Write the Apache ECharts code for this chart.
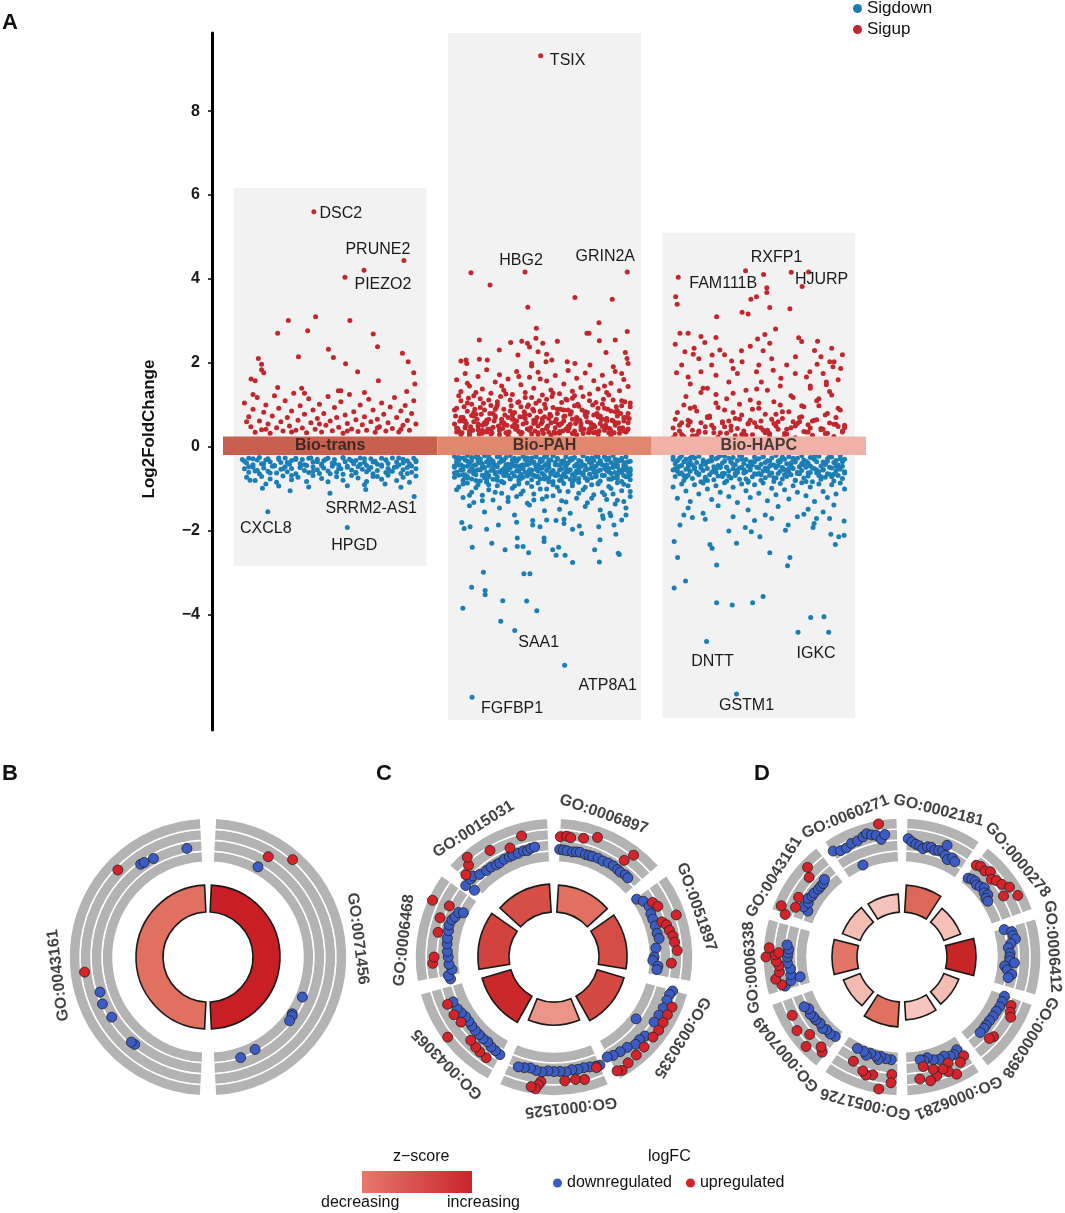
<!DOCTYPE html>
<html><head><meta charset="utf-8">
<script src="https://cdn.jsdelivr.net/npm/echarts@6/dist/echarts.min.js"></script>
<style>html,body{margin:0;padding:0;background:#fff}#c{width:1065px;height:1213px}</style>
</head><body><div id="c"></div>
<script>
// ---------------- Panel A data ----------------
const groups = ['Bio-trans', 'Bio-PAH', 'Bio-HAPC'];
const rectTop = [6.17, 9.86, 5.10];
const rectBottom = [-2.83, -6.50, -6.45];
const bandTop = [0.25, 0.25, 0.25];
const bandBottom = [-0.19, -0.19, -0.19];
const yTicks = [-4, -2, 0, 2, 4, 6, 8];

// points: [offset within group, log2FC, optional gene label]
const transUpHigh = [[-.076,5.60,'DSC2'],[.344,4.44,'PRUNE2'],[.158,4.21],[.069,4.04,'PIEZO2'],[-.068,3.10],[-.195,3.01],[.092,3.01],[-.245,2.71],[-.105,2.77],[.201,2.69],[-.008,2.33],[-.148,2.15],[.015,2.13],[.221,2.39],[.337,2.23],[-.335,2.11],[-.32,1.97],[-.32,1.84],[-.31,1.77],[.072,1.98],[.364,2.03],[.128,1.79],[.39,1.77],[-.369,1.62],[-.35,1.58],[.225,1.58],[.395,1.50],[-.245,1.42],[-.133,1.40],[.038,1.34],[.05,1.34],[.357,1.32]];
const transUpCore = [[-.40,1.05],[-.38,.72],[-.37,.48],[-.36,.90],[-.35,.35],[-.34,1.18],[-.33,.62],[-.32,.41],[-.31,.83],[-.30,1.00],[-.29,.55],[-.28,.33],[-.27,.74],[-.26,1.22],[-.25,.46],[-.24,.92],[-.23,.60],[-.22,.38],[-.21,1.10],[-.20,.70],[-.19,.50],[-.18,.86],[-.17,1.28],[-.16,.40],[-.15,.64],[-.14,.98],[-.13,.45],[-.12,.78],[-.11,.34],[-.10,1.15],[-.09,.58],[-.08,.88],[-.07,.42],[-.06,.68],[-.05,1.02],[-.04,.36],[-.03,.80],[-.02,.52],[-.01,1.20],[0,.62],[.01,.39],[.02,.94],[.03,.70],[.04,.47],[.05,1.08],[.06,.33],[.07,.76],[.08,.56],[.09,1.25],[.10,.43],[.11,.84],[.12,.65],[.13,.37],[.14,1.00],[.15,.53],[.16,.72],[.17,.40],[.18,1.14],[.19,.60],[.20,.88],[.21,.35],[.22,.66],[.23,.48],[.24,1.05],[.25,.78],[.26,.38],[.27,.58],[.28,.95],[.29,.44],[.30,1.18],[.31,.70],[.32,.36],[.33,.86],[.34,.52],[.35,.99],[.36,.63],[.37,.40],[.38,.80],[.39,1.10],[.40,.55],[-.39,.60],[-.30,.42],[-.18,.36],[-.05,.55],[.08,.38],[.22,.45],[.33,.42],[-.12,1.28],[.16,1.30],[-.36,1.25]];
const transDownCore = [[-.41,-.30],[-.39,-.38],[-.38,-.27],[-.36,-.42],[-.34,-.31],[-.33,-.25],[-.31,-.40],[-.29,-.28],[-.28,-.35],[-.26,-.44],[-.24,-.29],[-.23,-.37],[-.21,-.26],[-.19,-.41],[-.18,-.32],[-.16,-.27],[-.14,-.39],[-.13,-.30],[-.11,-.44],[-.09,-.26],[-.08,-.36],[-.06,-.29],[-.04,-.41],[-.03,-.33],[-.01,-.27],[.01,-.38],[.02,-.30],[.04,-.43],[.06,-.26],[.07,-.35],[.09,-.29],[.11,-.40],[.12,-.32],[.14,-.26],[.16,-.37],[.17,-.44],[.19,-.28],[.21,-.34],[.22,-.41],[.24,-.27],[.26,-.31],[.27,-.39],[.29,-.26],[.31,-.36],[.32,-.43],[.34,-.29],[.36,-.33],[.37,-.40],[.39,-.27],[.40,-.35],
[-.40,-.52],[-.38,-.60],[-.36,-.48],[-.35,-.57],[-.33,-.64],[-.31,-.50],[-.29,-.58],[-.27,-.46],[-.25,-.62],[-.23,-.53],[-.21,-.47],[-.20,-.59],[-.18,-.51],[-.16,-.64],[-.14,-.49],[-.12,-.56],[-.10,-.61],[-.08,-.47],[-.06,-.54],[-.05,-.63],[-.03,-.50],[-.01,-.57],[.01,-.46],[.03,-.60],[.05,-.52],[.06,-.65],[.08,-.48],[.10,-.55],[.12,-.62],[.13,-.47],[.15,-.53],[.17,-.59],[.19,-.49],[.20,-.64],[.22,-.56],[.24,-.46],[.26,-.61],[.27,-.51],[.29,-.58],[.31,-.47],[.33,-.63],[.34,-.54],[.36,-.49],[.38,-.60],[.40,-.52],
[-.39,-.72],[-.35,-.80],[-.32,-.70],[-.28,-.76],[-.25,-.84],[-.22,-.69],[-.18,-.78],[-.15,-.72],[-.11,-.82],[-.08,-.68],[-.04,-.75],[-.01,-.83],[.03,-.71],[.06,-.79],[.10,-.68],[.13,-.74],[.17,-.82],[.20,-.70],[.24,-.77],[.27,-.67],[.31,-.80],[.34,-.72],[.37,-.84],[.40,-.69],[-.30,-.88],[.16,-.90]];
const transDownCore2 = [[-.40,-.34],[-.38,-.47],[-.36,-.28],[-.34,-.56],[-.32,-.40],[-.30,-.31],[-.28,-.62],[-.26,-.45],[-.24,-.26],[-.22,-.52],[-.20,-.37],[-.18,-.68],[-.16,-.30],[-.14,-.49],[-.12,-.42],[-.10,-.27],[-.08,-.58],[-.06,-.35],[-.04,-.44],[-.02,-.29],[0,-.64],[.02,-.39],[.04,-.51],[.06,-.25],[.08,-.46],[.10,-.33],[.12,-.60],[.14,-.41],[.16,-.28],[.18,-.54],[.20,-.36],[.22,-.70],[.24,-.43],[.26,-.31],[.28,-.57],[.30,-.48],[.32,-.26],[.34,-.38],[.36,-.63],[.38,-.45],[.40,-.32]];
const transDownTail = [[-.374,-.79],[-.316,-.98],[-.187,-1.04],[-.001,-1.10],[.166,-1.01],[.256,-.88],[-.10,-.95],[.08,-.92],[.33,-.96],[-.24,-.93],[-.291,-1.54,'CXCL8'],[.392,-1.18,'SRRM2-AS1'],[.080,-1.92,'HPGD']];

const pahUpHigh = [[-.018,9.32,'TSIX'],[-.343,4.15],[-.091,4.17,'HBG2'],[.386,4.17,'GRIN2A'],[-.254,3.86],[.142,3.56],[.316,3.52],[-.078,3.33],[-.038,2.83],[.254,2.96],[.198,2.71],[.208,2.71],[.386,2.75],[-.304,2.55],[-.158,2.49],[-.106,2.52],[-.08,2.47],[-.07,2.38],[-.04,2.59],[-.008,2.47],[.06,2.52],[.256,2.53],[.33,2.55],[-.211,2.31],[-.124,2.19],[-.03,2.27],[.01,2.21],[.287,2.25],[.377,2.25],[.385,2.11],[.39,1.99],[-.39,2.05],[-.366,2.07],[-.363,1.99],[-.304,2.09],[-.267,2.07],[-.06,1.99],[-.06,1.93],[.007,2.03],[.034,2.07],[.106,2.03],[.142,1.99],[.212,1.95],[.321,1.91]];
const pahUpMid = [[-.41,1.60],[-.39,1.32],[-.37,1.75],[-.35,1.45],[-.33,1.22],[-.31,1.68],[-.29,1.38],[-.27,1.84],[-.25,1.28],[-.23,1.55],[-.21,1.72],[-.19,1.35],[-.17,1.62],[-.15,1.25],[-.13,1.80],[-.11,1.48],[-.09,1.30],[-.07,1.66],[-.05,1.40],[-.03,1.78],[-.01,1.24],[.01,1.57],[.03,1.36],[.05,1.70],[.07,1.27],[.09,1.50],[.11,1.82],[.13,1.33],[.15,1.64],[.17,1.42],[.19,1.76],[.21,1.26],[.23,1.58],[.25,1.38],[.27,1.71],[.29,1.30],[.31,1.52],[.33,1.80],[.35,1.34],[.37,1.61],[.39,1.44],[-.36,1.52],[-.20,1.45],[-.02,1.62],[.14,1.22],[.28,1.45],[.36,1.75],[-.12,1.68]];
const pahUpCore = [[-.42,.55],[-.41,.92],[-.40,.38],[-.39,1.10],[-.38,.70],[-.37,.45],[-.36,.85],[-.35,.33],[-.34,1.02],[-.33,.60],[-.32,.78],[-.31,.41],[-.30,1.15],[-.29,.52],[-.28,.88],[-.27,.36],[-.26,.66],[-.25,.99],[-.24,.47],[-.23,.74],[-.22,1.08],[-.21,.39],[-.20,.58],[-.19,.90],[-.18,.34],[-.17,.70],[-.16,1.12],[-.15,.49],[-.14,.82],[-.13,.62],[-.12,.37],[-.11,.96],[-.10,.55],[-.09,1.18],[-.08,.43],[-.07,.76],[-.06,.31],[-.05,.64],[-.04,1.04],[-.03,.50],[-.02,.86],[-.01,.40],[0,.72],[.01,1.14],[.02,.35],[.03,.58],[.04,.94],[.05,.46],[.06,.80],[.07,.33],[.08,1.06],[.09,.62],[.10,.42],[.11,.88],[.12,.54],[.13,1.16],[.14,.38],[.15,.70],[.16,.97],[.17,.48],[.18,.32],[.19,.84],[.20,.60],[.21,1.10],[.22,.44],[.23,.76],[.24,.36],[.25,.92],[.26,.56],[.27,1.02],[.28,.40],[.29,.68],[.30,.34],[.31,.86],[.32,1.12],[.33,.52],[.34,.74],[.35,.42],[.36,.98],[.37,.62],[.38,.36],[.39,.80],[.40,1.05],
[-.415,.74],[-.405,.44],[-.395,.62],[-.385,.34],[-.375,.96],[-.365,.56],[-.355,1.16],[-.345,.48],[-.335,.40],[-.325,.90],[-.315,.66],[-.305,.31],[-.295,.78],[-.285,1.04],[-.275,.54],[-.265,.42],[-.255,.80],[-.245,.34],[-.235,.62],[-.225,.94],[-.215,.50],[-.205,1.20],[-.195,.44],[-.185,.76],[-.175,.52],[-.165,.36],[-.155,.98],[-.145,.66],[-.135,.42],[-.125,1.06],[-.115,.72],[-.105,.34],[-.095,.84],[-.085,.58],[-.075,1.00],[-.065,.46],[-.055,.90],[-.045,.38],[-.035,.70],[-.025,1.10],[-.015,.56],[-.005,.32],[.005,.92],[.015,.50],[.025,.78],[.035,1.20],[.045,.36],[.055,.66],[.065,.54],[.075,.90],[.085,.38],[.095,.74],[.105,1.12],[.115,.46],[.125,.84],[.135,.32],[.145,.56],[.155,1.02],[.165,.64],[.175,.88],[.185,.42],[.195,.72],[.205,.34],[.215,.58],[.225,1.00],[.235,.48],[.245,.80],[.255,.38],[.265,.66],[.275,1.14],[.285,.52],[.295,.90],[.305,.44],[.315,.64],[.325,.34],[.335,.96],[.345,.58],[.355,.80],[.365,.46],[.375,1.08],[.385,.40],[.395,.68]];
const pahUpCore2 = [[-.41,.45],[-.39,.30],[-.37,.62],[-.35,.38],[-.33,.74],[-.31,.50],[-.29,.33],[-.27,.58],[-.25,.42],[-.23,.70],[-.21,.29],[-.19,.54],[-.17,.36],[-.15,.66],[-.13,.47],[-.11,.31],[-.09,.78],[-.07,.40],[-.05,.56],[-.03,.34],[-.01,.68],[.01,.44],[.03,.28],[.05,.60],[.07,.37],[.09,.72],[.11,.49],[.13,.32],[.15,.64],[.17,.41],[.19,.76],[.21,.35],[.23,.52],[.25,.30],[.27,.66],[.29,.46],[.31,.39],[.33,.58],[.35,.33],[.37,.70],[.39,.43]];
const pahUpCore3 = [[-.42,.88],[-.40,1.22],[-.38,.62],[-.36,1.05],[-.34,.75],[-.32,1.30],[-.30,.94],[-.28,.58],[-.26,1.12],[-.24,.80],[-.22,1.00],[-.20,.66],[-.18,1.26],[-.16,.86],[-.14,.54],[-.12,1.08],[-.10,.72],[-.08,.96],[-.06,1.18],[-.04,.60],[-.02,.84],[0,1.02],[.02,.68],[.04,1.28],[.06,.90],[.08,.56],[.10,1.14],[.12,.78],[.14,.98],[.16,.64],[.18,1.20],[.20,.82],[.22,.52],[.24,1.06],[.26,.74],[.28,.92],[.30,1.24],[.32,.62],[.34,.86],[.36,1.10],[.38,.70],[.40,.96]];
const pahUpCore4 = [[-.41,.36],[-.39,.70],[-.37,.48],[-.35,.28],[-.33,.82],[-.31,.55],[-.29,.40],[-.27,.64],[-.25,.31],[-.23,.90],[-.21,.44],[-.19,.58],[-.17,.27],[-.15,.76],[-.13,.50],[-.11,.35],[-.09,.68],[-.07,.42],[-.05,.86],[-.03,.30],[-.01,.60],[.01,.46],[.03,.74],[.05,.33],[.07,.52],[.09,.88],[.11,.39],[.13,.66],[.15,.29],[.17,.56],[.19,.80],[.21,.43],[.23,.34],[.25,.72],[.27,.49],[.29,.62],[.31,.27],[.33,.84],[.35,.45],[.37,.38],[.39,.58]];
const pahDownCore = [[-.42,-.22],[-.40,-.31],[-.38,-.26],[-.36,-.20],[-.34,-.33],[-.32,-.24],[-.30,-.29],[-.28,-.21],[-.26,-.27],[-.24,-.34],[-.22,-.23],[-.20,-.30],[-.18,-.25],[-.16,-.20],[-.14,-.32],[-.12,-.28],[-.10,-.22],[-.08,-.26],[-.06,-.33],[-.04,-.21],[-.02,-.29],[0,-.24],[.02,-.31],[.04,-.20],[.06,-.27],[.08,-.34],[.10,-.23],[.12,-.28],[.14,-.25],[.16,-.32],[.18,-.21],[.20,-.30],[.22,-.26],[.24,-.22],[.26,-.33],[.28,-.24],[.30,-.29],[.32,-.20],[.34,-.31],[.36,-.27],[.38,-.23],[.40,-.34],
[-.41,-.36],[-.39,-.42],[-.37,-.31],[-.35,-.39],[-.33,-.44],[-.31,-.33],[-.29,-.40],[-.27,-.35],[-.25,-.30],[-.23,-.43],[-.21,-.37],[-.19,-.32],[-.17,-.41],[-.15,-.38],[-.13,-.34],[-.11,-.44],[-.09,-.30],[-.07,-.39],[-.05,-.36],[-.03,-.42],[-.01,-.33],[.01,-.40],[.03,-.31],[.05,-.37],[.07,-.43],[.09,-.35],[.11,-.38],[.13,-.30],[.15,-.41],[.17,-.34],[.19,-.44],[.21,-.36],[.23,-.32],[.25,-.39],[.27,-.42],[.29,-.31],[.31,-.37],[.33,-.40],[.35,-.33],[.37,-.43],[.39,-.35],
[-.42,-.48],[-.40,-.43],[-.38,-.54],[-.36,-.46],[-.34,-.51],[-.32,-.42],[-.30,-.55],[-.28,-.49],[-.26,-.44],[-.24,-.52],[-.22,-.47],[-.20,-.56],[-.18,-.43],[-.16,-.50],[-.14,-.45],[-.12,-.53],[-.10,-.48],[-.08,-.42],[-.06,-.55],[-.04,-.46],[-.02,-.51],[0,-.44],[.02,-.49],[.04,-.56],[.06,-.43],[.08,-.52],[.10,-.47],[.12,-.54],[.14,-.45],[.16,-.50],[.18,-.42],[.20,-.53],[.22,-.48],[.24,-.46],[.26,-.55],[.28,-.44],[.30,-.51],[.32,-.49],[.34,-.43],[.36,-.56],[.38,-.47],[.40,-.52],
[-.41,-.60],[-.39,-.55],[-.37,-.66],[-.35,-.58],[-.33,-.63],[-.31,-.54],[-.29,-.67],[-.27,-.61],[-.25,-.56],[-.23,-.64],[-.21,-.59],[-.19,-.68],[-.17,-.55],[-.15,-.62],[-.13,-.57],[-.11,-.65],[-.09,-.60],[-.07,-.54],[-.05,-.67],[-.03,-.58],[-.01,-.63],[.01,-.56],[.03,-.61],[.05,-.68],[.07,-.55],[.09,-.64],[.11,-.59],[.13,-.66],[.15,-.57],[.17,-.62],[.19,-.54],[.21,-.65],[.23,-.60],[.25,-.58],[.27,-.67],[.29,-.56],[.31,-.63],[.33,-.61],[.35,-.55],[.37,-.68],[.39,-.59],
[-.42,-.72],[-.40,-.67],[-.38,-.79],[-.36,-.70],[-.34,-.76],[-.32,-.66],[-.30,-.81],[-.28,-.73],[-.26,-.68],[-.24,-.77],[-.22,-.71],[-.20,-.82],[-.18,-.67],[-.16,-.75],[-.14,-.69],[-.12,-.80],[-.10,-.72],[-.08,-.66],[-.06,-.78],[-.04,-.70],[-.02,-.76],[0,-.68],[.02,-.74],[.04,-.82],[.06,-.67],[.08,-.79],[.10,-.71],[.12,-.77],[.14,-.69],[.16,-.75],[.18,-.66],[.20,-.80],[.22,-.73],[.24,-.70],[.26,-.81],[.28,-.68],[.30,-.76],[.32,-.74],[.34,-.67],[.36,-.82],[.38,-.71],[.40,-.78]];
const pahDownCore2 = [[-.41,-.28],[-.39,-.55],[-.37,-.72],[-.35,-.40],[-.33,-.63],[-.31,-.24],[-.29,-.48],[-.27,-.78],[-.25,-.35],[-.23,-.60],[-.21,-.22],[-.19,-.52],[-.17,-.68],[-.15,-.31],[-.13,-.45],[-.11,-.75],[-.09,-.26],[-.07,-.58],[-.05,-.38],[-.03,-.70],[-.01,-.50],[.01,-.21],[.03,-.65],[.05,-.42],[.07,-.80],[.09,-.33],[.11,-.56],[.13,-.27],[.15,-.62],[.17,-.46],[.19,-.74],[.21,-.36],[.23,-.53],[.25,-.23],[.27,-.67],[.29,-.43],[.31,-.77],[.33,-.30],[.35,-.59],[.37,-.49],[.39,-.71]];
const pahDownCore3 = [[-.42,-.62],[-.40,-.30],[-.38,-.46],[-.36,-.74],[-.34,-.25],[-.32,-.56],[-.30,-.38],[-.28,-.68],[-.26,-.21],[-.24,-.50],[-.22,-.79],[-.20,-.34],[-.18,-.60],[-.16,-.44],[-.14,-.27],[-.12,-.72],[-.10,-.52],[-.08,-.36],[-.06,-.65],[-.04,-.23],[-.02,-.48],[0,-.76],[.02,-.40],[.04,-.58],[.06,-.29],[.08,-.70],[.10,-.45],[.12,-.32],[.14,-.63],[.16,-.54],[.18,-.20],[.20,-.77],[.22,-.41],[.24,-.66],[.26,-.35],[.28,-.51],[.30,-.26],[.32,-.73],[.34,-.47],[.36,-.61],[.38,-.37],[.40,-.57]];
const pahDownCore4 = [[-.42,-.45],[-.40,-.25],[-.38,-.66],[-.36,-.34],[-.34,-.55],[-.32,-.80],[-.30,-.29],[-.28,-.50],[-.26,-.71],[-.24,-.39],[-.22,-.23],[-.20,-.61],[-.18,-.47],[-.16,-.76],[-.14,-.32],[-.12,-.57],[-.10,-.42],[-.08,-.69],[-.06,-.26],[-.04,-.53],[-.02,-.36],[0,-.74],[.02,-.48],[.04,-.21],[.06,-.64],[.08,-.40],[.10,-.58],[.12,-.30],[.14,-.78],[.16,-.44],[.18,-.62],[.20,-.27],[.22,-.51],[.24,-.70],[.26,-.38],[.28,-.24],[.30,-.59],[.32,-.46],[.34,-.75],[.36,-.33],[.38,-.54],[.40,-.66]];
const pahDownMid = [[-.40,-.95],[-.38,-1.20],[-.36,-.86],[-.34,-1.08],[-.33,-1.32],[-.31,-.90],[-.29,-1.15],[-.27,-.84],[-.26,-1.02],[-.24,-1.26],[-.22,-.92],[-.20,-1.10],[-.19,-.85],[-.17,-1.30],[-.15,-.98],[-.13,-1.18],[-.12,-.88],[-.10,-1.05],[-.08,-1.34],[-.06,-.94],[-.05,-1.12],[-.03,-.86],[-.01,-1.24],[.01,-1.00],[.02,-.83],[.04,-1.16],[.06,-.96],[.08,-1.28],[.09,-.87],[.11,-1.06],[.13,-.92],[.15,-1.22],[.16,-.84],[.18,-1.02],[.20,-1.33],[.22,-.90],[.23,-1.14],[.25,-.86],[.27,-1.08],[.29,-1.25],[.30,-.94],[.32,-1.12],[.34,-.85],[.36,-1.04],[.37,-1.30],[.39,-.92],[.40,-1.18],[-.35,-1.40],[-.21,-1.45],[-.07,-1.38],[.07,-1.48],[.19,-1.42],[.33,-1.36],[-.28,-1.55],[.12,-1.58],[.26,-1.50],[-.14,-1.62],[0,-1.52],[.38,-1.45]];
const pahDownMid2 = [[-.41,-1.02],[-.38,-.88],[-.35,-1.15],[-.32,-.97],[-.29,-1.28],[-.26,-.90],[-.23,-1.08],[-.20,-.83],[-.17,-1.20],[-.14,-.93],[-.11,-1.12],[-.08,-.86],[-.05,-1.26],[-.02,-1.00],[.01,-1.18],[.04,-.90],[.07,-1.05],[.10,-1.31],[.13,-.85],[.16,-1.10],[.19,-.96],[.22,-1.22],[.25,-.88],[.28,-1.14],[.31,-.99],[.34,-1.27],[.37,-.89],[.40,-1.06]];
const pahDownTail = [[-.338,-5.96,'FGFBP1'],[.094,-5.20,'ATP8A1'],[-.139,-4.37,'SAA1'],[-.204,-4.15],[-.381,-3.84],[-.036,-3.90],[-.195,-3.66],[-.083,-3.67],[-.34,-3.34],[-.277,-3.42],[-.277,-3.52],[-.285,-2.98],[-.096,-3.02],[-.068,-3.02],[-.337,-2.39],[-.246,-2.29],[-.184,-2.45],[-.127,-2.17],[-.127,-2.37],[-.10,-2.37],[-.074,-2.52],[-.002,-2.17],[-.002,-2.25],[.038,-2.45],[.066,-2.39],[.054,-2.58],[.096,-2.58],[.131,-2.75],[.234,-2.45],[.256,-2.74],[.259,-2.21],[.344,-2.53],[.349,-2.56],[.333,-2.08],[.324,-1.86],[.38,-1.62],[.36,-1.74],[-.386,-1.80],[-.375,-1.94],[-.347,-1.90],[-.27,-1.96],[-.215,-1.86],[-.13,-1.79],[-.055,-1.75],[-.055,-1.86],[-.021,-1.90],[.01,-1.74],[.054,-1.75],[.091,-1.72],[.091,-1.82],[.131,-1.96],[.162,-1.88],[.173,-2.06],[.253,-1.90],[.271,-1.64],[.274,-1.70],[.305,-1.58],[.309,-1.64]];

const hapcUpHigh = [[-.376,4.04,'FAM111B'],[-.062,4.20,'RXFP1'],[.022,4.11],[.151,4.16],[.232,4.17,'HJURP'],[.202,3.82],[.037,3.79],[.037,3.68],[-.388,3.58],[-.381,3.40],[-.011,3.58],[-.037,3.52],[-.078,3.21],[-.05,3.17],[.051,3.32],[.145,3.29],[-.197,3.10],[-.368,2.71],[-.33,2.71],[-.27,2.63],[-.252,2.49],[-.20,2.61],[-.006,2.57],[.028,2.68],[.051,2.47],[.078,2.81],[.186,2.60],[.20,2.51],[.274,2.52],[-.345,2.27],[-.302,2.35],[-.306,2.21],[-.218,2.19],[-.182,2.31],[-.127,2.05],[-.081,2.29],[.02,2.29],[.171,2.15],[.331,2.03],[.351,2.03],[.346,1.91],[.272,1.97],[-.384,1.77],[-.33,1.67],[-.27,1.79],[-.20,1.71],[-.12,1.87],[-.078,2.03],[-.011,1.79],[.012,1.55],[.067,1.83],[.103,1.64],[.222,1.67],[.238,1.79],[.30,1.75],[.315,1.55],[.315,1.48],[.382,1.87]];
const hapcUpMid = [[-.39,2.45],[-.36,1.95],[-.32,1.50],[-.28,2.10],[-.24,1.40],[-.16,2.20],[-.14,1.55],[-.10,1.75],[-.04,2.40],[0,1.95],[.06,2.10],[.10,1.45],[.13,1.95],[.17,1.75],[.26,2.30],[.29,2.15],[.34,2.35],[.37,1.60],[.39,2.20],[-.06,1.35],[.24,1.40],[-.22,1.95]];
const hapcUpCore = [[-.40,.45],[-.38,.82],[-.36,.30],[-.34,1.20],[-.32,.60],[-.30,.95],[-.28,.38],[-.26,1.40],[-.24,.70],[-.22,.52],[-.20,1.05],[-.18,.34],[-.16,.88],[-.14,.62],[-.12,1.28],[-.10,.44],[-.08,.76],[-.06,.28],[-.04,1.12],[-.02,.58],[0,.92],[.02,.40],[.04,1.35],[.06,.66],[.08,.50],[.10,1.00],[.12,.32],[.14,.84],[.16,1.18],[.18,.56],[.20,.72],[.22,.36],[.24,1.45],[.26,.64],[.28,.98],[.30,.42],[.32,.80],[.34,1.24],[.36,.54],[.38,.88],[.40,.46],
[-.39,.66],[-.37,.38],[-.35,1.00],[-.33,.52],[-.31,.26],[-.29,.86],[-.27,1.30],[-.25,.48],[-.23,.74],[-.21,.34],[-.19,.94],[-.17,.58],[-.15,1.15],[-.13,.40],[-.11,.68],[-.09,1.02],[-.07,.30],[-.05,.56],[-.03,.90],[-.01,1.38],[.01,.46],[.03,.78],[.05,.32],[.07,1.08],[.09,.60],[.11,.84],[.13,.42],[.15,1.22],[.17,.50],[.19,.70],[.21,.96],[.23,.36],[.25,.62],[.27,1.10],[.29,.44],[.31,.76],[.33,1.32],[.35,.54],[.37,.92],[.39,.38],
[-.40,.22],[-.36,.58],[-.32,.92],[-.28,.35],[-.24,.72],[-.20,1.25],[-.16,.48],[-.12,.82],[-.08,.30],[-.04,.64],[0,1.05],[.04,.40],[.08,.78],[.12,.25],[.16,.60],[.20,.98],[.24,.45],[.28,1.15],[.32,.33],[.36,.70],[.40,.52]];
const hapcUpCore2 = [[-.39,.30],[-.37,.52],[-.35,.25],[-.33,.64],[-.31,.40],[-.29,.28],[-.27,.58],[-.25,.35],[-.23,.70],[-.21,.45],[-.19,.24],[-.17,.60],[-.15,.33],[-.13,.50],[-.11,.27],[-.09,.66],[-.07,.38],[-.05,.55],[-.03,.29],[-.01,.48],[.01,.62],[.03,.34],[.05,.26],[.07,.56],[.09,.42],[.11,.68],[.13,.31],[.15,.46],[.17,.22],[.19,.60],[.21,.37],[.23,.53],[.25,.28],[.27,.65],[.29,.41],[.31,.32],[.33,.57],[.35,.25],[.37,.49],[.39,.36]];
const hapcDownCore = [[-.40,-.24],[-.38,-.33],[-.36,-.21],[-.34,-.29],[-.32,-.36],[-.30,-.26],[-.28,-.22],[-.26,-.31],[-.24,-.35],[-.22,-.23],[-.20,-.28],[-.18,-.20],[-.16,-.34],[-.14,-.27],[-.12,-.25],[-.10,-.32],[-.08,-.21],[-.06,-.30],[-.04,-.36],[-.02,-.24],[0,-.28],[.02,-.22],[.04,-.33],[.06,-.26],[.08,-.20],[.10,-.35],[.12,-.29],[.14,-.23],[.16,-.31],[.18,-.27],[.20,-.21],[.22,-.34],[.24,-.25],[.26,-.30],[.28,-.22],[.30,-.36],[.32,-.28],[.34,-.24],[.36,-.32],[.38,-.20],[.40,-.29],
[-.39,-.40],[-.37,-.46],[-.35,-.35],[-.33,-.49],[-.31,-.43],[-.29,-.37],[-.27,-.50],[-.25,-.41],[-.23,-.34],[-.21,-.47],[-.19,-.44],[-.17,-.38],[-.15,-.48],[-.13,-.36],[-.11,-.42],[-.09,-.50],[-.07,-.39],[-.05,-.45],[-.03,-.35],[-.01,-.48],[.01,-.41],[.03,-.37],[.05,-.46],[.07,-.43],[.09,-.34],[.11,-.49],[.13,-.40],[.15,-.44],[.17,-.36],[.19,-.47],[.21,-.42],[.23,-.38],[.25,-.50],[.27,-.35],[.29,-.45],[.31,-.41],[.33,-.48],[.35,-.37],[.37,-.43],[.39,-.46],
[-.40,-.55],[-.38,-.50],[-.36,-.62],[-.34,-.53],[-.32,-.58],[-.30,-.48],[-.28,-.64],[-.26,-.56],[-.24,-.51],[-.22,-.60],[-.20,-.54],[-.18,-.49],[-.16,-.63],[-.14,-.57],[-.12,-.52],[-.10,-.61],[-.08,-.48],[-.06,-.59],[-.04,-.55],[-.02,-.64],[0,-.50],[.02,-.57],[.04,-.53],[.06,-.62],[.08,-.49],[.10,-.58],[.12,-.54],[.14,-.60],[.16,-.51],[.18,-.63],[.20,-.56],[.22,-.48],[.24,-.61],[.26,-.52],[.28,-.59],[.30,-.55],[.32,-.64],[.34,-.50],[.36,-.57],[.38,-.53],[.40,-.62],
[-.39,-.70],[-.37,-.64],[-.35,-.80],[-.33,-.67],[-.31,-.75],[-.29,-.62],[-.27,-.83],[-.25,-.72],[-.23,-.66],[-.21,-.78],[-.19,-.69],[-.17,-.63],[-.15,-.81],[-.13,-.74],[-.11,-.68],[-.09,-.77],[-.07,-.62],[-.05,-.84],[-.03,-.71],[-.01,-.65],[.01,-.79],[.03,-.73],[.05,-.67],[.07,-.82],[.09,-.63],[.11,-.76],[.13,-.70],[.15,-.66],[.17,-.80],[.19,-.64],[.21,-.74],[.23,-.69],[.25,-.83],[.27,-.62],[.29,-.77],[.31,-.72],[.33,-.65],[.35,-.81],[.37,-.68],[.39,-.75]];
const hapcDownCore2 = [[-.40,-.30],[-.38,-.58],[-.36,-.44],[-.34,-.72],[-.32,-.26],[-.30,-.52],[-.28,-.66],[-.26,-.38],[-.24,-.80],[-.22,-.33],[-.20,-.61],[-.18,-.47],[-.16,-.22],[-.14,-.69],[-.12,-.41],[-.10,-.55],[-.08,-.29],[-.06,-.76],[-.04,-.49],[-.02,-.35],[0,-.63],[.02,-.24],[.04,-.57],[.06,-.43],[.08,-.74],[.10,-.31],[.12,-.66],[.14,-.51],[.16,-.27],[.18,-.60],[.20,-.39],[.22,-.82],[.24,-.45],[.26,-.21],[.28,-.68],[.30,-.53],[.32,-.34],[.34,-.71],[.36,-.46],[.38,-.28],[.40,-.59]];
const hapcDownCore3 = [[-.39,-.52],[-.37,-.27],[-.35,-.68],[-.33,-.40],[-.31,-.22],[-.29,-.60],[-.27,-.45],[-.25,-.77],[-.23,-.33],[-.21,-.56],[-.19,-.25],[-.17,-.70],[-.15,-.48],[-.13,-.36],[-.11,-.63],[-.09,-.21],[-.07,-.54],[-.05,-.81],[-.03,-.42],[-.01,-.29],[.01,-.66],[.03,-.50],[.05,-.34],[.07,-.73],[.09,-.44],[.11,-.24],[.13,-.58],[.15,-.38],[.17,-.79],[.19,-.47],[.21,-.31],[.23,-.62],[.25,-.26],[.27,-.55],[.29,-.71],[.31,-.41],[.33,-.23],[.35,-.65],[.37,-.49],[.39,-.35]];
const hapcDownMid = [[-.40,-.95],[-.38,-1.22],[-.36,-.88],[-.34,-1.05],[-.32,-1.30],[-.30,-.90],[-.28,-1.12],[-.26,-.86],[-.24,-1.00],[-.22,-1.25],[-.20,-.92],[-.18,-1.08],[-.16,-.85],[-.14,-1.18],[-.12,-.96],[-.10,-1.32],[-.08,-.88],[-.06,-1.04],[-.04,-1.20],[-.02,-.90],[0,-1.10],[.02,-.86],[.04,-1.28],[.06,-.98],[.08,-1.14],[.10,-.87],[.12,-1.02],[.14,-1.24],[.16,-.92],[.18,-1.08],[.20,-.85],[.22,-1.16],[.24,-.95],[.26,-1.30],[.28,-.88],[.30,-1.06],[.32,-1.20],[.34,-.90],[.36,-1.12],[.38,-.86],[.40,-1.00],[-.33,-1.45],[-.19,-1.40],[-.05,-1.50],[.09,-1.42],[.23,-1.48],[.35,-1.38],[-.26,-1.58],[.03,-1.62],[.30,-1.55]];
const hapcDownTail = [[-.244,-4.63,'DNTT'],[-.104,-5.88,'GSTM1'],[.183,-4.41,'IGKC'],[.242,-4.06],[.304,-4.04],[.326,-4.41],[-.395,-3.36],[-.342,-3.19],[-.197,-3.71],[-.124,-3.76],[-.029,-3.71],[.02,-3.56],[-.197,-2.81],[-.379,-2.63],[.051,-2.52],[.134,-2.83],[.145,-2.63],[-.395,-2.25],[-.228,-2.32],[-.218,-2.41],[-.104,-2.29],[.357,-2.32],[.373,-2.14],[.336,-2.08],[.398,-2.10],[-.368,-1.86],[-.14,-2.00],[-.063,-1.92],[-.035,-2.02],[.005,-2.14],[.124,-1.98],[.137,-1.86],[.253,-1.92],[.258,-1.82],[.269,-1.70],[.398,-1.76],[-.31,-1.68],[-.25,-1.72],[-.12,-1.66],[-.02,-1.75],[.06,-1.70],[.18,-1.66],[.33,-1.70],[-.35,-1.62],[.21,-1.60]];

// ---------------- GO circle data ----------------
const termsB = ['GO:0071456', 'GO:0043161'];
const negLogPB = [2.7, 2.7];
const zScoreB = [2.7, 0.0];
const downB = [[29,-1.9],[113,-1.97],[124,-2.1],[125,-1.95],[128,-1.83],[153,-1.8],[162,-1.53],[220,-0.4],[222,-0.33],[238,-0.47],[246,-0.2],[252,-0.47],[324,-0.33],[326,-0.4],[331,-0.6],[349,-0.87]];
const upB = [[31,0.0],[41,1.63],[263,1.0],[314,1.13]];

const termsC = ['GO:0006897','GO:0051897','GO:0030335','GO:0001525','GO:0043065','GO:0006468','GO:0015031'];
const negLogPC = [2.7, 2.8, 2.8, 2.3, 3.0, 3.1, 2.8];
const zScoreC = [0.0, 1.2, 1.3, -1.2, 2.4, 1.5, 1.1];
const downC = [[3,-1.27],[5,-1.3],[7,-1.35],[10,-1.4],[12,-1.3],[14,-1.25],[17,-1.35],[19,-1.3],[21,-1.27],[24,-1.2],[27,-1.25],[30,-1.15],[33,-1.13],[36,-1.2],[38,-1.27],[41,-1.13],[43,-1.2],
[55,-2.2],[58,-1.6],[62,-1.27],[66,-1.5],[69,-1.53],[73,-1.5],[77,-1.53],[80,-1.4],[85,-2.0],[90,-2.3],[92,-2.47],[95,-1.73],[97,-1.8],
[106,0.87],[108,0.6],[111,0.53],[115,0.47],[119,0.4],[123,0.33],[127,-1.93],[131,0.47],[134,0.27],[137,0.33],[141,-0.1],[145,-0.2],[149,-0.3],[152,-0.5],
[157,0.07],[159,0.0],[162,-0.2],[165,-0.33],[168,-0.3],[171,-0.4],[174,-0.2],[177,-0.33],[180,-0.33],[183,-0.4],[186,-0.2],[189,-0.3],[192,-0.47],[195,-0.33],[198,-0.2],
[209,-0.73],[212,-0.9],[215,-1.0],[218,-1.27],[221,-1.2],[224,-1.27],[227,-1.27],[230,-1.33],[233,-1.4],[236,-1.4],[239,-1.2],[242,-1.0],[246,-0.9],
[258,-1.53],[260,-1.33],[263,-1.93],[266,-1.6],[270,-1.53],[273,-1.4],[277,-1.27],[280,-1.2],[284,-1.13],[287,-1.0],[290,-1.13],[292,-1.4],[295,-1.6],[296,-2.2],
[309,-0.47],[310,-1.8],[313,-0.4],[315,-0.33],[318,-0.8],[322,-1.0],[325,-1.0],[328,-1.13],[330,-1.13],[333,-1.0],[336,-1.0],[338,-1.0],[341,-1.0],[344,-0.9],[346,-1.0],[348,-0.8],[350,-0.73]];
const upC = [[3,0.47],[6,0.6],[8,0.47],[14,0.73],[20,1.4],[36,0.33],[38,1.67],
[61,-0.6],[64,-0.2],[71,1.67],[72,-0.47],[74,0.0],[77,0.2],[80,0.5],[83,0.6],[87,0.87],[93,0.07],
[113,1.53],[117,1.4],[121,1.4],[125,1.47],[129,1.4],[135,1.4],[140,1.5],[145,1.67],[149,2.07],[151,1.8],
[159,0.2],[166,1.27],[170,1.0],[175,1.0],[186,1.13],[187,1.6],[188,2.2],[190,2.0],
[214,0.6],[218,0.47],[221,0.33],[225,0.1],[233,2.2],[235,-0.47],[240,-0.2],[246,-0.07],
[267,0.6],[270,0.4],[282,0.2],[289,0.47],[295,2.33],[296,-0.07],
[313,0.47],[317,1.13],[319,2.07],[329,1.0],[338,0.07],[345,1.13]];

const termsD = ['GO:0002181','GO:0000278','GO:0006412','GO:0000398','GO:0006281','GO:0051726','GO:0007049','GO:0006338','GO:0043161','GO:0060271'];
const negLogPD = [2.7, 1.8, 2.9, 1.6, 1.8, 2.5, 1.8, 2.5, 1.9, 1.8];
const zScoreD = [0.3, -2.6, 2.5, -2.5, -2.8, 0.0, -2.4, -0.2, -2.5, -2.7];
const downD = [[3,0.2],[5,-0.2],[7,-0.47],[9,-0.6],[11,-0.9],[13,-0.53],[15,-0.47],[17,-0.73],[19,-0.6],[21,-0.47],[22,0.47],[23,-0.9],[25,-1.3],[27,-0.8],[29,-1.1],
[40,-1.93],[42,-1.7],[44,-1.6],[46,-1.8],[48,-1.6],[50,-1.3],[52,-1.73],[54,-1.5],[55,-2.0],[57,-2.0],
[75,-1.53],[77,-0.6],[79,-0.53],[81,-0.3],[83,-1.0],[85,-1.4],[88,-1.2],[90,-1.27],[92,-1.27],[93,-0.6],[95,-1.9],[97,-1.5],[99,-0.8],[101,-1.2],
[111,-1.0],[114,-1.0],[117,-1.0],[120,-1.13],[123,-1.13],[126,-1.2],[129,-1.2],[131,-1.13],[134,-1.13],
[149.5,-1.27],[152,-0.9],[154,-0.93],[157,-1.27],[160,-1.1],[163,-1.3],[166,-1.8],[168,-1.5],[170,-1.73],
[186,-1.87],[189,-1.9],[192,-2.07],[193,-1.6],[195,-2.0],[198,-2.13],[200,-1.7],[202,-2.07],[206,-2.07],
[220,-1.8],[223,-1.6],[226,-1.67],[228,-1.4],[231,-1.6],[234,-1.4],[236,-1.4],[238,-1.2],[241,-1.4],[243,-1.0],
[256,0.47],[258,-0.47],[259,-1.8],[261,-0.6],[264,-0.67],[267,-0.3],[270,-0.33],[272,-0.4],[274,-0.47],[276,-0.2],
[296,-1.67],[297,-0.87],[300,-1.2],[302,-0.87],[304,-1.13],[306,-1.13],[309,-1.27],[311,-1.27],[313,-1.27],[315,-1.0],
[327,1.27],[330,0.8],[333,0.73],[336,1.0],[337,-2.33],[339,1.0],[342,1.27],[344,1.53],[346,1.2],[348,1.0],[350,0.33],[352,0.9]];
const upD = [[39,0.13],[41,0.4],[44,0.33],[46,0.8],[49,0.2],[51,0.6],[54,0.9],[57,1.53],[59,0.2],[62,1.93],
[114,0.33],[117,0.6],[119,1.0],[131,0.6],[133,0.33],
[148,-0.07],[151,0.47],[155,1.67],[156.5,-0.2],[158,0.9],[160,0.33],[163.8,0.95],[164.5,-0.07],[167,1.37],[169,-0.73],[171.7,0.87],
[185,0.13],[185,1.27],[190,2.33],[194,0.6],[197,0.9],[199,0.47],[205,-0.27],
[220,1.0],[222,0.53],[227,1.93],[230,0.47],[235,1.53],[242,1.0],
[257,0.87],[260,1.53],[263,0.9],[266,0.87],[268,1.2],[270,2.6],[271,1.3],[272,0.87],[274,2.2],
[290,1.0],[293,1.93],[295,0.07],[300,0.33],[310.6,0.73],[313.5,1.8],
[350,2.47]];

// ---------------- styles ----------------
const FONT = '"Liberation Sans", Arial, Helvetica, sans-serif';
const A_BLUE = '#1b7fb6', A_RED = '#c1272d';
const GO_BLUE = '#3a5cc4', GO_RED = '#d4232a';
const bandColors = ['#c8604f', '#e0876d', '#f0b1a7'];
const geneLabelOffset = {
  'DSC2':[27,2], 'PRUNE2':[-26,-11], 'PIEZO2':[38,7], 'CXCL8':[-2,17], 'SRRM2-AS1':[-43,12], 'HPGD':[7,18],
  'TSIX':[27,5], 'HBG2':[-4,-11], 'GRIN2A':[-22,-15], 'SAA1':[24,12], 'ATP8A1':[43,20], 'FGFBP1':[40,11],
  'FAM111B':[45,6], 'RXFP1':[31,-13], 'HJURP':[13,8], 'DNTT':[6,20], 'GSTM1':[10,12], 'IGKC':[18,21]
};
const zStops = [[248,204,197],[224,112,95],[196,22,28]];
function zColor(z){
  let t = Math.max(0, Math.min(1, (z + 3) / 6)) * 2;
  const i = Math.min(1, Math.floor(t)); const f = t - i;
  const a = zStops[i], b = zStops[i+1];
  const c = a.map((v,k)=>Math.round(v + (b[k]-v)*f));
  return 'rgb(' + c.join(',') + ')';
}

function buildPts(groupArrays){
  const out = [];
  groupArrays.forEach((arrs, g) => {
    arrs.forEach(arr => arr.forEach(p => {
      const item = { value: [g + p[0], p[1]] };
      if (p[2]) {
        item.name = p[2];
        item.label = { show: true, formatter: p[2], position: 'inside', offset: geneLabelOffset[p[2]],
          color: '#1a1a1a', fontSize: 16, fontFamily: FONT };
      }
      out.push(item);
    }));
  });
  return out;
}

const panels = [
  { center:[208,957], terms:termsB, nlp:negLogPB, z:zScoreB, down:downB, up:upB, barGap:'3%', trackGap:'3.4%', shift:-7 },
  { center:[554,957], terms:termsC, nlp:negLogPC, z:zScoreC, down:downC, up:upC, barGap:'14%', trackGap:'10%', shift:-6.5 },
  { center:[902,957], terms:termsD, nlp:negLogPD, z:zScoreD, down:downD, up:upD, barGap:'19%', trackGap:'11%', shift:-4 }
];

const polar = [], angleAxis = [], radiusAxis = [];
const hiddenAxis = { show:false, axisLine:{show:false}, axisTick:{show:false}, axisLabel:{show:false}, splitLine:{show:false} };
panels.forEach((P, p) => {
  const radii = [[45,85],[95,139],[95,139],[0,160]];
  radii.forEach((r, k) => {
    const idx = p*4 + k;
    polar.push({ center: P.center, radius: r });
    if (k < 2) angleAxis.push(Object.assign({ polarIndex: idx, type:'category', data: P.terms, startAngle: 90, clockwise: true }, hiddenAxis));
    else angleAxis.push(Object.assign({ polarIndex: idx, type:'value', min:0, max:360, startAngle: 90, clockwise: true }, hiddenAxis));
    if (k === 0 || k === 1) radiusAxis.push(Object.assign({ polarIndex: idx, type:'value', min:0, max:4 }, hiddenAxis));
    else if (k === 2) radiusAxis.push(Object.assign({ polarIndex: idx, type:'value', min:-3, max:3 }, hiddenAxis));
    else radiusAxis.push(Object.assign({ polarIndex: idx, type:'value', min:0, max:160 }, hiddenAxis));
  });
});

const series = [
  { type:'bar', xAxisIndex:0, yAxisIndex:0, stack:'bg', data: rectTop, barCategoryGap:'10%', itemStyle:{color:'#f2f2f2'}, silent:true, z:0 },
  { type:'bar', xAxisIndex:0, yAxisIndex:0, stack:'bg', data: rectBottom, barCategoryGap:'10%', itemStyle:{color:'#f2f2f2'}, silent:true, z:0 },
  { type:'scatter', name:'Sigdown', xAxisIndex:1, yAxisIndex:0, symbolSize:5, itemStyle:{color:A_BLUE, opacity:1},
    data: buildPts([[transDownCore, transDownCore2, transDownTail],[pahDownCore, pahDownCore2, pahDownCore3, pahDownCore4, pahDownMid, pahDownMid2, pahDownTail],[hapcDownCore, hapcDownCore2, hapcDownCore3, hapcDownMid, hapcDownTail]]), z:2 },
  { type:'scatter', name:'Sigup', xAxisIndex:1, yAxisIndex:0, symbolSize:5, itemStyle:{color:A_RED, opacity:1},
    data: buildPts([[transUpHigh, transUpCore],[pahUpHigh, pahUpMid, pahUpCore, pahUpCore2, pahUpCore3, pahUpCore4],[hapcUpHigh, hapcUpMid, hapcUpCore, hapcUpCore2]]), z:2 },
  { type:'bar', xAxisIndex:2, yAxisIndex:0, stack:'band', barCategoryGap:'0%', silent:true, z:3,
    data: bandTop.map((v,i)=>({value:v, itemStyle:{color:bandColors[i]}})) },
  { type:'bar', xAxisIndex:2, yAxisIndex:0, stack:'band', barCategoryGap:'0%', silent:true, z:3,
    data: bandBottom.map((v,i)=>({value:v, itemStyle:{color:bandColors[i]}})) },
  { type:'scatter', xAxisIndex:2, yAxisIndex:0, symbolSize:1, itemStyle:{color:'rgba(0,0,0,0)'}, silent:true, z:4,
    data: groups.map((g,i)=>({name:g, value:[i, 0]})),
    label:{show:true, position:'inside', formatter:'{b}', fontSize:16, fontWeight:'bold', color:'#1a1a1a', offset:[0,-1]} }
];

panels.forEach((P, p) => {
  const base = p*4;
  for (let k = 0; k < 4; k++) {
    series.push({ type:'bar', coordinateSystem:'polar', polarIndex: base+1, stack:'trk'+p, barCategoryGap:P.trackGap,
      data: P.terms.map(()=>1), itemStyle:{color:'#b3b3b3', borderColor:'#ffffff', borderWidth:1.5}, silent:true, z:1 });
  }
  series.push({ type:'bar', coordinateSystem:'polar', polarIndex: base, barCategoryGap:P.barGap,
    data: P.nlp.map((v,i)=>({value:v, itemStyle:{color:zColor(P.z[i])}})),
    itemStyle:{borderColor:'#1a1a1a', borderWidth:1.6}, silent:true, z:2 });
  series.push({ type:'scatter', name:'downregulated', coordinateSystem:'polar', polarIndex: base+2, symbolSize:10,
    data: P.down.map(d=>[d[1], d[0]]), itemStyle:{color:GO_BLUE, opacity:1, borderColor:'#222', borderWidth:0.8}, z:3 });
  series.push({ type:'scatter', name:'upregulated', coordinateSystem:'polar', polarIndex: base+2, symbolSize:10,
    data: P.up.map(d=>[d[1], d[0]]), itemStyle:{color:GO_RED, opacity:1, borderColor:'#222', borderWidth:0.8}, z:3 });
  series.push({ type:'scatter', coordinateSystem:'polar', polarIndex: base+3, symbolSize:1, itemStyle:{color:'rgba(0,0,0,0)'}, silent:true, z:4,
    data: P.terms.map((t,i)=>{ const a = (i+0.5)*360/P.terms.length + P.shift; return { name:t, value:[151, a], label:{rotate:-a} }; }),
    label:{show:true, position:'inside', formatter:'{b}', fontSize:16, fontWeight:'bold', color:'#111'} });
});

const titleStyle = (size, bold) => ({ fontSize:size, fontWeight: bold ? 'bold' : 'normal', color:'#111', fontFamily:FONT });
const option = {
  animation:false,
  backgroundColor:'#ffffff',
  textStyle:{ fontFamily: FONT },
  title:[
    { text:'A', left:2, top:12, padding:0, textStyle:titleStyle(22,true) },
    { text:'B', left:2, top:763, padding:0, textStyle:titleStyle(22,true) },
    { text:'C', left:376, top:763, padding:0, textStyle:titleStyle(22,true) },
    { text:'D', left:754, top:763, padding:0, textStyle:titleStyle(22,true) },
    { text:'z\u2212score', left:393, top:1149, padding:0, textStyle:titleStyle(16,false) },
    { text:'logFC', left:648, top:1149, padding:0, textStyle:titleStyle(16,false) },
    { text:'decreasing', left:321, top:1195, padding:0, textStyle:titleStyle(16,false) },
    { text:'increasing', left:447, top:1195, padding:0, textStyle:titleStyle(16,false) }
  ],
  legend:[
    { data:['Sigdown','Sigup'], left:853, top:0, orient:'vertical', icon:'circle', itemWidth:9, itemHeight:9, itemGap:4,
      padding:0, textStyle:{fontSize:17, color:'#111'}, selectedMode:false },
    { data:['downregulated','upregulated'], left:553, top:1175, orient:'horizontal', icon:'circle', itemWidth:9, itemHeight:9, itemGap:14,
      padding:0, textStyle:{fontSize:16, color:'#111'}, itemStyle:{borderWidth:0}, selectedMode:false }
  ],
  grid:[{ left:223, right:199, top:33, bottom:483, containLabel:false }],
  xAxis:[
    { type:'category', data:groups, gridIndex:0, show:false },
    { type:'value', min:-0.5, max:2.5, gridIndex:0, show:false },
    { type:'category', data:groups, gridIndex:0, show:false }
  ],
  yAxis:[{
    type:'value', gridIndex:0, position:'left', min:-6.74, max:9.86, offset:11,
    axisLine:{show:true, onZero:false, lineStyle:{color:'#000', width:3}},
    axisTick:{show:true, length:4, lineStyle:{color:'#000', width:1.5}, customValues:yTicks},
    axisLabel:{show:true, customValues:yTicks, margin:12, fontSize:16, fontWeight:'bold', color:'#1a1a1a',
      formatter: v => v < 0 ? '\u2212' + Math.abs(v) : String(v)},
    splitLine:{show:false},
    name:'Log2FoldChange', nameLocation:'middle', nameGap:54,
    nameTextStyle:{fontSize:17, fontWeight:'bold', color:'#111', padding:[0,95,0,0]}
  }],
  polar, angleAxis, radiusAxis,
  graphic:[
    { type:'rect', left:362, top:1171, shape:{width:110, height:22},
      style:{ fill: new echarts.graphic.LinearGradient(0,0,1,0,[{offset:0,color:'#e8786b'},{offset:1,color:'#c9252b'}]) } }
  ],
  series
};
const chart = echarts.init(document.getElementById('c'), null, {renderer:'canvas'});
chart.setOption(option);
</script>
</body></html>
